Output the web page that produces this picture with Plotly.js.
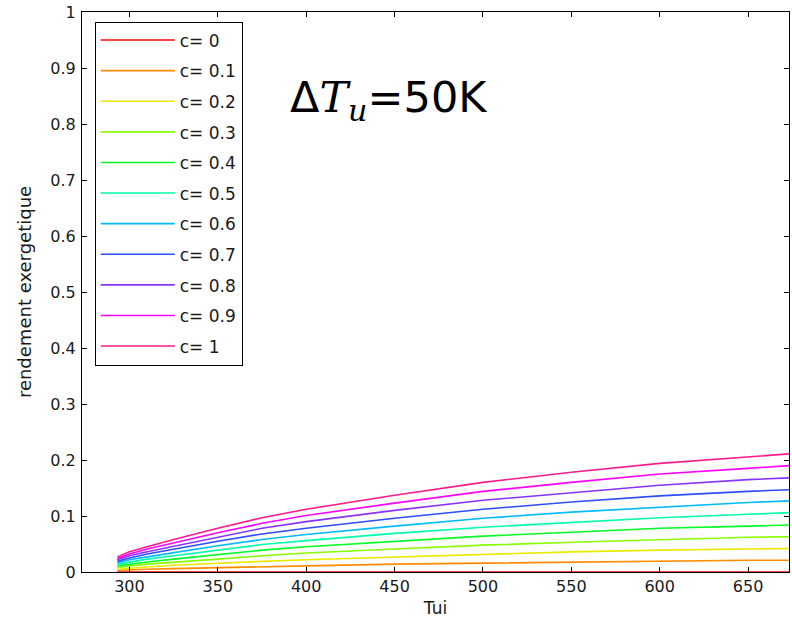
<!DOCTYPE html>
<html>
<head>
<meta charset="utf-8">
<script src="https://cdn.plot.ly/plotly-3.0.1.min.js"></script>
<style>html,body{margin:0;padding:0;background:#fff;}#chart{width:792px;height:629px;}</style>
</head>
<body>
<div id="chart"></div>
<script>
// Tui (K)
const tui = [293.15, 300, 310, 325, 350, 375, 400, 450, 500, 550, 600, 650, 673.15];
const cLabels = ['c= 0','c= 0.1','c= 0.2','c= 0.3','c= 0.4','c= 0.5','c= 0.6','c= 0.7','c= 0.8','c= 0.9','c= 1'];
const c00 = [0,0,0,0,0,0,0,0,0,0,0,0,0];
const c01 = [0.003,0.004,0.005,0.006,0.008,0.010,0.011,0.014,0.016,0.018,0.019,0.021,0.021];
const c02 = [0.005,0.007,0.009,0.012,0.016,0.019,0.022,0.027,0.032,0.036,0.039,0.041,0.042];
const c03 = [0.008,0.011,0.014,0.017,0.023,0.029,0.034,0.041,0.048,0.053,0.058,0.062,0.063];
const c04 = [0.011,0.014,0.018,0.023,0.031,0.039,0.045,0.055,0.064,0.071,0.078,0.082,0.084];
const c05 = [0.014,0.018,0.023,0.029,0.039,0.049,0.056,0.069,0.080,0.089,0.097,0.103,0.106];
const c06 = [0.016,0.022,0.027,0.035,0.047,0.058,0.067,0.082,0.096,0.107,0.116,0.124,0.127];
const c07 = [0.019,0.025,0.032,0.041,0.055,0.068,0.078,0.096,0.112,0.125,0.136,0.144,0.147];
const c08 = [0.022,0.029,0.036,0.046,0.062,0.078,0.090,0.110,0.128,0.142,0.155,0.165,0.168];
const c09 = [0.024,0.032,0.041,0.052,0.070,0.087,0.101,0.123,0.144,0.160,0.175,0.185,0.190];
const c10 = [0.027,0.036,0.045,0.058,0.078,0.097,0.112,0.137,0.160,0.178,0.194,0.206,0.211];
const series = [c00,c01,c02,c03,c04,c05,c06,c07,c08,c09,c10];
const colors = ['#ff0000','#ff8c00','#eaea00','#88ff00','#00ff22','#00ffaa','#00bbff','#2e4dff','#8833ff','#ff00ff','#ff1a8c'];

const traces = series.map((ys, i) => ({
  x: tui, y: ys, type: 'scatter', mode: 'lines', name: cLabels[i],
  line: {color: colors[i], width: 1.6}, legendgroup: 'g' + i
}));

const fam = 'DejaVu Sans, sans-serif';
const tickFont = {family: fam, size: 16, color: '#1a1a1a'};
const legFont = {family: fam, size: 17, color: '#1a1a1a'};
const layout = {
  width: 792, height: 629,
  margin: {l: 82, r: 3, t: 12, b: 57},
  paper_bgcolor: '#fff', plot_bgcolor: '#fff',
  font: tickFont,
  showlegend: true,
  legend: {
    x: 0.018, y: 0.983, xanchor: 'left', yanchor: 'top',
    bgcolor: '#fff', bordercolor: '#000', borderwidth: 1,
    font: legFont, tracegroupgap: 5.5, traceorder: 'grouped', itemwidth: 74
  },
  xaxis: {
    range: [273.15, 673.15], tickvals: [300,350,400,450,500,550,600,650],
    ticks: 'inside', ticklen: 5, tickcolor: '#000', mirror: 'ticks',
    showline: true, linecolor: '#000', linewidth: 1, showgrid: false, zeroline: false,
    tickfont: tickFont, title: {text: 'Tui', font: {family: fam, size: 17, color: '#1a1a1a'}, standoff: 6}
  },
  yaxis: {
    range: [0, 1], dtick: 0.1, tick0: 0,
    ticks: 'inside', ticklen: 5, tickcolor: '#000', mirror: 'ticks',
    showline: true, linecolor: '#000', linewidth: 1, showgrid: false, zeroline: false,
    tickfont: tickFont, ticklabelstandoff: 2,
    title: {text: 'rendement exergetique', font: {family: fam, size: 18, color: '#1a1a1a'}, standoff: 14}
  },
  annotations: [{
    xref: 'paper', yref: 'paper', x: (288 - 82) / 707, y: (572 - 100) / 560,
    xanchor: 'left', yanchor: 'middle', showarrow: false,
    text: 'Δ<span style="font-family:DejaVu Serif;font-style:italic">T</span><sub><span style="font-family:DejaVu Serif;font-style:italic">u</span></sub>=50K',
    font: {family: fam, size: 43, color: '#000'}
  }]
};

Plotly.newPlot('chart', traces, layout, {displayModeBar: false, staticPlot: true});
</script>
</body>
</html>
